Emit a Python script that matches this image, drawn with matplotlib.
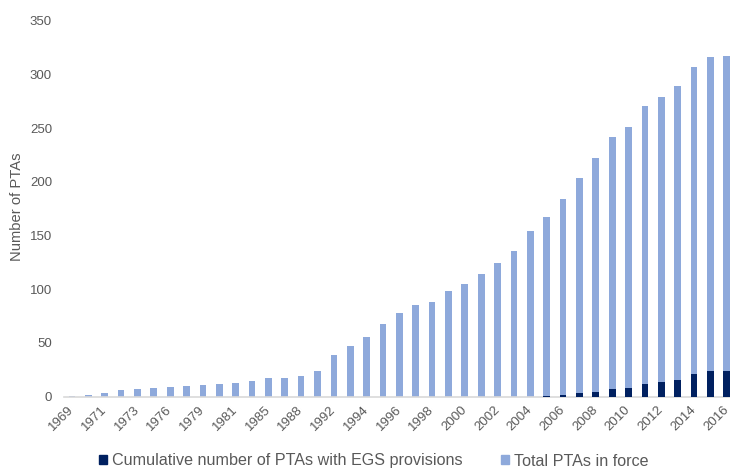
import matplotlib
matplotlib.use("Agg")
import matplotlib.pyplot as plt
from matplotlib.patches import Patch

plt.rcParams['font.family'] = ['Liberation Sans', 'DejaVu Sans']

# data
years = ['1969', '1970', '1971', '1972', '1973', '1974', '1976', '1977', '1979', '1980',
         '1981', '1983', '1985', '1986', '1988', '1990', '1992', '1993', '1994', '1995',
         '1996', '1997', '1998', '1999', '2000', '2001', '2002', '2003', '2004', '2005',
         '2006', '2007', '2008', '2009', '2010', '2011', '2012', '2013', '2014', '2015', '2016']
total_ptas = [1, 2, 3, 6, 7, 8, 9, 10, 11, 12,
              13, 15, 17, 17, 19, 24, 39, 47, 56, 68,
              78, 85, 88, 98, 105, 114, 124, 136, 154, 167,
              184, 204, 222, 242, 251, 271, 279, 289, 307, 316, 317]
egs_ptas = [0, 0, 0, 0, 0, 0, 0, 0, 0, 0,
            0, 0, 0, 0, 0, 0, 0, 0, 0, 0,
            0, 0, 0, 0, 0, 0, 0, 0, 0, 1,
            2, 3, 4, 7, 8, 12, 14, 16, 21, 24, 24]

light = '#8EA9DB'
dark = '#002060'
grey = '#595959'

fig = plt.figure(figsize=(7.3, 4.68), dpi=100)
ax = fig.add_axes([63.8 / 730, 1 - 396.7 / 468, 1 - 63.8 / 730, (396.7 - 20.7) / 468])

pos = list(range(len(years)))
ax.bar(pos, total_ptas, width=0.41, color=light, zorder=2)
ax.bar(pos, egs_ptas, width=0.41, color=dark, zorder=3)

ax.set_xlim(-0.5, 40.2)
ax.set_ylim(0, 350)
ax.set_yticks(range(0, 351, 50))
ax.set_xticks(pos[::2])
ax.set_xticklabels(years[::2], rotation=45, ha='right', va='center', rotation_mode='anchor')

for s in ['top', 'right', 'left']:
    ax.spines[s].set_visible(False)
ax.spines['bottom'].set_color('#D9D9D9')
ax.spines['bottom'].set_linewidth(1.2)
ax.tick_params(axis='both', length=0, colors=grey, labelsize=9.5)
ax.tick_params(axis='y', pad=8.5)
ax.tick_params(axis='x', pad=8)

fig.text(17 / 730, 1 - 207 / 468, 'Number of PTAs', rotation=90, ha='center', va='center',
         fontsize=10.6, color=grey)

handles = [Patch(color=dark, label='Cumulative number of PTAs with EGS provisions'),
           Patch(color=light, label='Total PTAs in force')]
fig.legend(handles=handles, loc='center', bbox_to_anchor=(374 / 730, 1 - 461 / 468),
           ncol=2, frameon=False, fontsize=11.6, labelcolor=grey,
           handlelength=0.5, handleheight=0.5, handletextpad=0.3, columnspacing=2.4,
           borderpad=0, borderaxespad=0)

fig.savefig('out.png', dpi=100)
